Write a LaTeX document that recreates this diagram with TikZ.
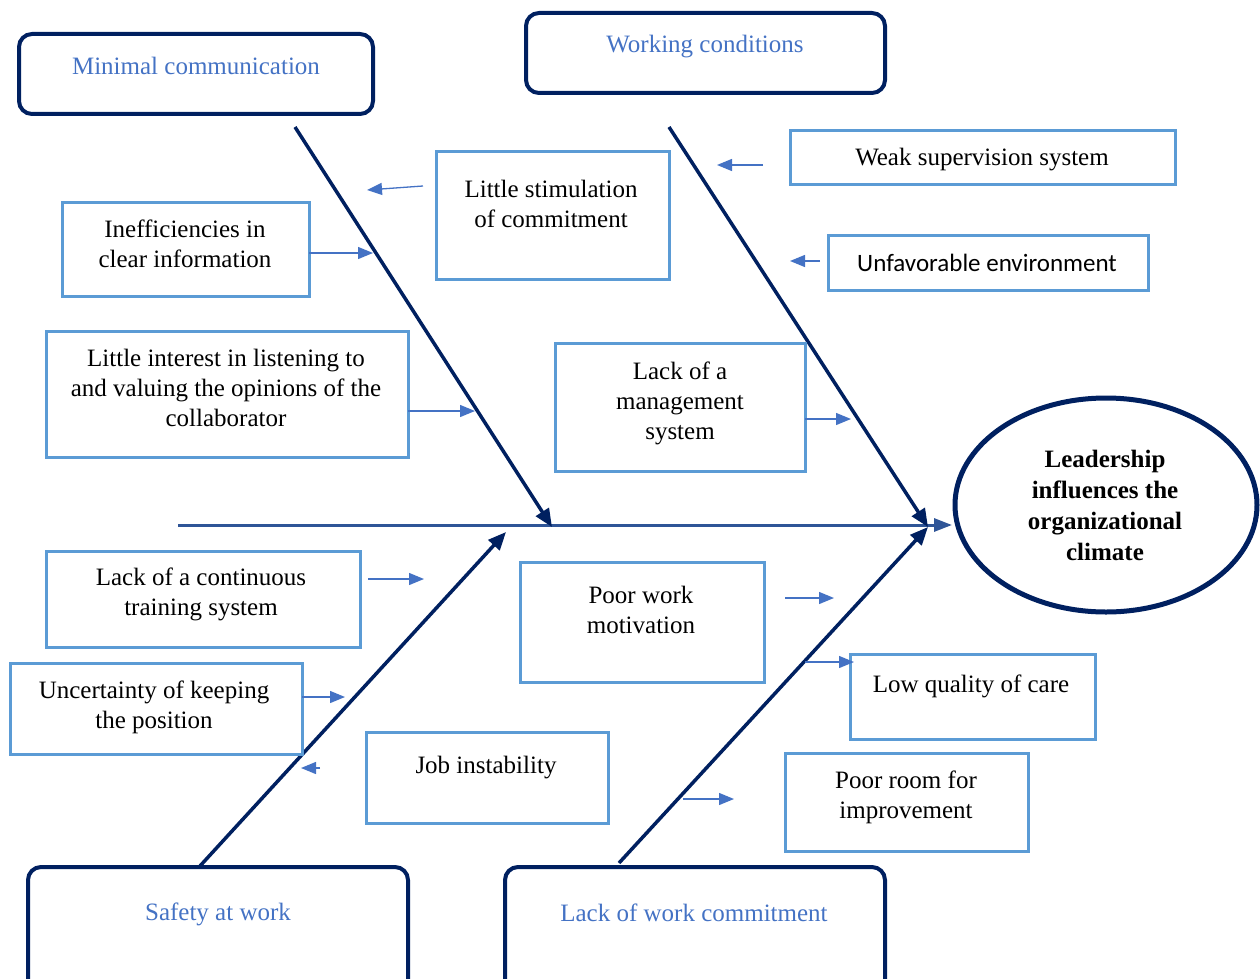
\documentclass[tikz,border=0pt]{standalone}
\usepackage{fontspec}
\setmainfont{Liberation Serif}
\newfontfamily\calibri{Carlito}
\usetikzlibrary{arrows.meta,shapes.geometric}
\definecolor{navy}{HTML}{002060}
\definecolor{spineblue}{HTML}{2F5597}
\definecolor{arrblue}{HTML}{4472C4}
\definecolor{boxblue}{HTML}{5B9BD5}
\begin{document}
\begin{tikzpicture}[x=1pt,y=-1pt,
  every node/.style={font=\fontsize{25}{30}\selectfont, inner sep=0pt, outer sep=0pt},
  catbox/.style={draw=navy, line width=4pt, rounded corners=13pt},
  causebox/.style={draw=boxblue, line width=3pt},
  cattext/.style={text=arrblue},
  txt/.style={align=center, text=black},
  bone/.style={draw=navy, line width=3.5pt, -{Triangle[length=18pt,width=15pt]}},
  spine/.style={draw=spineblue, line width=3pt, -{Triangle[length=18pt,width=13pt]}},
  small/.style={draw=arrblue, line width=1.3pt, -{Triangle[length=15pt,width=12pt]}}
]
\useasboundingbox (0,0) rectangle (1260,979);
\clip (0,0) rectangle (1260,979);

% head
\node[ellipse, draw=navy, line width=5pt, minimum width=302pt, minimum height=214pt] (head) at (1106,505) {};
\node[txt, font=\fontsize{25}{31}\selectfont\bfseries] (headt) at (1105,505) {Leadership\\influences the\\organizational\\climate};

% spine
\coordinate (sp0) at (178,525);
\coordinate (sp1) at (952,525);
\draw[spine] (sp0) -- (sp1);

% bones
\coordinate (b1s) at (295,127); \coordinate (b1e) at (552,527);
\coordinate (b2s) at (669,127); \coordinate (b2e) at (928,527);
\coordinate (b3s) at (200,866); \coordinate (b3e) at (506,532);
\coordinate (b4s) at (619,863); \coordinate (b4e) at (928,527);
\draw[bone] (b1s) -- (b1e);
\draw[bone] (b2s) -- (b2e);
\draw[bone] (b3s) -- (b3e);
\draw[bone] (b4s) -- (b4e);

% category boxes
\node[catbox, minimum width=354pt, minimum height=80pt] (mc) at (196,74) {};
\node[cattext] (mct) at (196,66) {Minimal communication};
\node[catbox, minimum width=359pt, minimum height=80pt] (wc) at (705.5,53) {};
\node[cattext] (wct) at (705,47) {Working conditions};
\node[catbox, minimum width=380pt, minimum height=133pt] (sw) at (218,933.5) {};
\node[cattext] (swt) at (218,914) {Safety at work};
\node[catbox, minimum width=380pt, minimum height=133pt] (lw) at (695,933.5) {};
\node[cattext] (lwt) at (694,913) {Lack of work commitment};

% cause boxes
\node[causebox, minimum width=233pt, minimum height=128pt] (ls) at (552.5,215) {};
\node[txt] (lst) at (551,203.5) {Little stimulation\\of commitment};
\node[causebox, minimum width=247pt, minimum height=94pt] (ie) at (185.5,249) {};
\node[txt] (iet) at (185,244) {Inefficiencies in\\clear information};
\node[causebox, minimum width=362pt, minimum height=126pt] (li) at (227,394) {};
\node[txt] (lit) at (226,387.5) {Little interest in listening to\\and valuing the opinions of the\\collaborator};
\node[causebox, minimum width=250pt, minimum height=128pt] (lm) at (680,407) {};
\node[txt] (lmt) at (680,403.5) {Lack of a\\management\\system};
\node[causebox, minimum width=385pt, minimum height=53pt] (ws) at (982.5,157.5) {};
\node[txt] (wst) at (982,160) {Weak supervision system};
\node[causebox, minimum width=320pt, minimum height=55pt] (ue) at (988,262.5) {};
\node[txt, font=\fontsize{25}{30}\selectfont\calibri] (uet) at (987,262.5) {Unfavorable environment};
\node[causebox, minimum width=314pt, minimum height=96pt] (lc) at (203,599) {};
\node[txt] (lct) at (201,594.5) {Lack of a continuous\\training system};
\node[causebox, minimum width=292pt, minimum height=91pt] (uk) at (156,708.5) {};
\node[txt] (ukt) at (154,707.5) {Uncertainty of keeping\\the position};
\node[causebox, minimum width=242pt, minimum height=91pt] (ji) at (487,777.5) {};
\node[txt] (jit) at (486,768) {Job instability};
\node[causebox, minimum width=244pt, minimum height=120pt] (pw) at (642,622) {};
\node[txt] (pwt) at (641,610) {Poor work\\motivation};
\node[causebox, minimum width=245pt, minimum height=85pt] (lq) at (972.5,696.5) {};
\node[txt] (lqt) at (971,686) {Low quality of care};
\node[causebox, minimum width=243pt, minimum height=98pt] (pr) at (906.5,802) {};
\node[txt] (prt) at (906,797) {Poor room for\\improvement};

% small arrows
\coordinate (a1s) at (423,186); \coordinate (a1e) at (367,190);
\coordinate (a2s) at (309,253); \coordinate (a2e) at (373,253);
\coordinate (a3s) at (408,411); \coordinate (a3e) at (475,411);
\coordinate (a4s) at (763,165); \coordinate (a4e) at (717,165);
\coordinate (a5s) at (820,261); \coordinate (a5e) at (790,261);
\coordinate (a6s) at (805,419); \coordinate (a6e) at (851,419);
\coordinate (a7s) at (368,579); \coordinate (a7e) at (424,579);
\coordinate (a8s) at (785,598); \coordinate (a8e) at (834,598);
\coordinate (a9s) at (302,697); \coordinate (a9e) at (345,697);
\coordinate (a10s) at (320,768); \coordinate (a10e) at (301,768);
\coordinate (a11s) at (805,662); \coordinate (a11e) at (854,662);
\coordinate (a12s) at (683,799); \coordinate (a12e) at (734,799);
\foreach \i in {1,...,12} {\draw[small] (a\i s) -- (a\i e);}
\end{tikzpicture}
\end{document}
